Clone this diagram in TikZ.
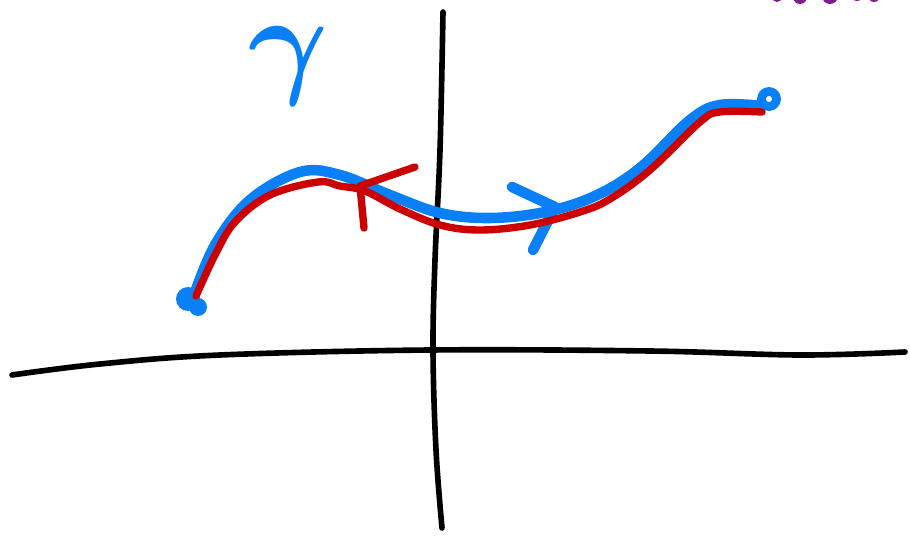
\documentclass[tikz,border=0pt]{standalone}
\usepackage{amsmath,amssymb}
\usepackage{tikz}
\definecolor{penblue}{HTML}{0A80F8}
\definecolor{penred}{HTML}{CC0000}
\definecolor{penpurple}{HTML}{821B8E}
\tikzset{
  axisline/.style={line width=3.2pt,black,line cap=round,line join=round},
  bluepen/.style={line width=6pt,penblue,line cap=round,line join=round},
  redpen/.style={line width=4.2pt,penred,line cap=round,line join=round}
}
\begin{document}
\begin{tikzpicture}[x=0.02cm,y=-0.02cm]
  \useasboundingbox (0,0) rectangle (910,537);
  % axes
  \draw[axisline] plot[smooth,tension=0.6] coordinates {(12,375) (100,364) (220,355) (430,350) (650,351) (800,355) (905,352)};
  \draw[axisline] plot[smooth,tension=0.6] coordinates {(443,12) (440,150) (435,260) (433,350) (436,450) (442,528)};
  % purple bits cut off at the top
  \begin{scope}
    \clip (0,0) rectangle (910,537);
    \fill[penpurple] (777,-3) circle (5);
    \fill[penpurple] (800,-3) circle (7);
    \fill[penpurple] (830,-4) circle (8);
    \fill[penpurple] (857,-5) circle (6);
    \fill[penpurple] (874,-4) circle (6);
    \fill[penpurple] (897,-6) circle (5);
  \end{scope}
  % the curve gamma
  \node[penblue,anchor=base,inner sep=0pt,scale=2.8,font=\Huge] (gam) at (289,82) {$\boldsymbol{\gamma}$};
  \coordinate (start) at (193,298);
  \coordinate (finish) at (762,106);
  \fill[penblue] (188,299) circle (12);
  \fill[penblue] (198,307) circle (9);
  \draw[bluepen] plot[smooth,tension=0.6] coordinates {(start) (215,245) (250,200) (300,172) (340,175) (390,195) (440,213) (490,218) (545,212) (595,196) (640,168) (690,120) (720,105) (finish)};
  \draw[bluepen,line width=5pt] (769,99) circle (7.5);
  \coordinate (btip) at (555,207);
  \draw[bluepen] (512,187) -- (btip) -- (533,250);
  % reversed curve
  \draw[redpen] plot[smooth,tension=0.6] coordinates {(196,296) (215,255) (235,222) (270,195) (318,182) (340,186) (365,191) (400,209) (440,225) (480,230) (530,225) (580,212) (610,199) (650,170) (700,122) (720,112) (762,112)};
  \coordinate (rtip) at (360,186);
  \draw[redpen] (415,167) -- (rtip) -- (364,228);
\end{tikzpicture}
\end{document}
